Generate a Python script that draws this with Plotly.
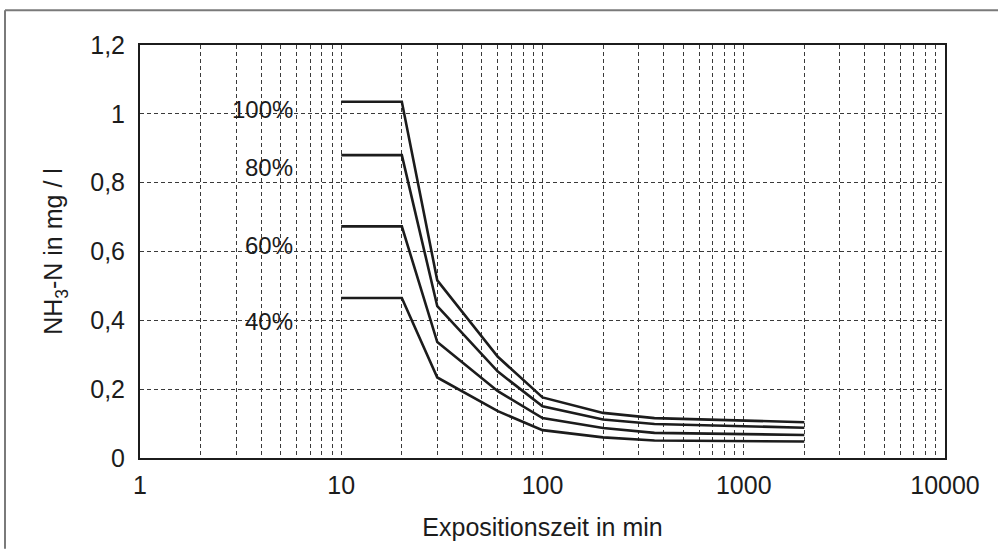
import plotly.graph_objects as go

# Data
exposure_min = [10, 20, 30, 60, 100, 200, 360, 2000]
series_names = ["100%", "80%", "60%", "40%"]
nh3_100 = [1.035, 1.035, 0.516, 0.294, 0.176, 0.131, 0.116, 0.104]
nh3_80 = [0.880, 0.880, 0.441, 0.251, 0.150, 0.112, 0.099, 0.088]
nh3_60 = [0.673, 0.673, 0.337, 0.194, 0.116, 0.087, 0.073, 0.067]
nh3_40 = [0.465, 0.465, 0.234, 0.136, 0.081, 0.060, 0.051, 0.048]
label_y = [1.012, 0.845, 0.617, 0.398]

y_tickvals = [0, 0.2, 0.4, 0.6, 0.8, 1.0, 1.2]
y_ticktext = ["0", "0,2", "0,4", "0,6", "0,8", "1", "1,2"]
x_decades = [1, 10, 100, 1000, 10000]
x_decade_labels = ["1", "10", "100", "1000", "10000"]

x_tickvals = []
x_ticktext = []
for d, lab in zip(x_decades, x_decade_labels):
    if d == 10000:
        x_tickvals.append(d)
        x_ticktext.append(lab)
        break
    for m in range(1, 10):
        x_tickvals.append(d * m)
        x_ticktext.append(lab if m == 1 else "")

FONT = "Liberation Sans, Arial, Helvetica, sans-serif"
INK = "#1c1c1c"
FS = 25

fig = go.Figure()
for name, ys in zip(series_names, [nh3_100, nh3_80, nh3_60, nh3_40]):
    fig.add_trace(go.Scatter(x=exposure_min, y=ys, mode="lines", name=name,
                             line=dict(color=INK, width=2.6), showlegend=False))

for name, yv in zip(series_names, label_y):
    fig.add_annotation(x=0.1925, xref="paper", y=yv, yref="y", text=name,
                       showarrow=False, xanchor="right", yanchor="middle",
                       font=dict(family=FONT, size=24, color=INK))

# outer frame (top and left)
fig.add_shape(type="line", xref="paper", yref="paper", x0=-0.1677, x1=1.07,
              y0=1.084, y1=1.084, line=dict(color="#7a7a7a", width=2))
fig.add_shape(type="line", xref="paper", yref="paper", x0=-0.1677, x1=-0.1677,
              y0=1.084, y1=-0.22, line=dict(color="#7a7a7a", width=2))

fig.update_layout(
    width=998, height=549,
    margin=dict(l=140, r=53, t=45, b=88),
    paper_bgcolor="white", plot_bgcolor="white",
    font=dict(family=FONT, size=FS, color=INK),
    xaxis=dict(type="log", range=[0, 4], tickmode="array",
               tickvals=x_tickvals, ticktext=x_ticktext,
               showgrid=True, gridcolor="#3a3a3a", griddash="4px,3px", gridwidth=1,
               showline=True, linecolor=INK, linewidth=2, mirror=True,
               ticks="", ticklen=0, zeroline=False, ticklabelstandoff=4,
               tickfont=dict(family=FONT, size=FS, color=INK),
               title=dict(text="Expositionszeit in min", standoff=20,
                          font=dict(family=FONT, size=FS, color=INK))),
    yaxis=dict(range=[0, 1.2], tickmode="array",
               tickvals=y_tickvals, ticktext=y_ticktext,
               showgrid=True, gridcolor="#3a3a3a", griddash="4px,3px", gridwidth=1,
               showline=True, linecolor=INK, linewidth=2, mirror=True,
               ticks="", ticklen=0, zeroline=False, ticklabelstandoff=8,
               tickfont=dict(family=FONT, size=FS, color=INK),
               title=dict(text="NH<sub>3</sub>-N in mg / l", standoff=20,
                          font=dict(family=FONT, size=FS, color=INK))),
)

fig.write_html("out.html")
